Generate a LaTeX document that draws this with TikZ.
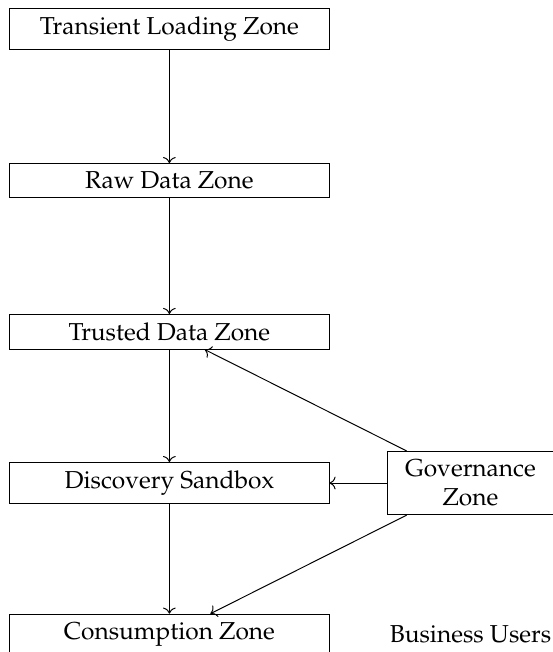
\documentclass[tikz,border=0pt]{standalone}
\usepackage[T1]{fontenc}
\usepackage{mathpazo}
\usepackage{tikz}
\usetikzlibrary{positioning,arrows.meta}

\begin{document}
\begin{tikzpicture}[every node/.style={font=\normalsize}]
  \tikzset{
    zone/.style={draw, minimum width=4.58cm, align=center},
    govzone/.style={draw, minimum width=2.37cm, align=center}
  }
  \useasboundingbox (0,0) rectangle (7.933,-9.354);

  % Main pipeline of zones
  \node[zone] (transient) at (2.43, -0.42) {Transient Loading Zone};
  \node[zone] (raw)       at (2.43, -2.59) {Raw Data Zone};
  \node[zone] (trusted)   at (2.43, -4.76) {Trusted Data Zone};
  \node[zone] (sandbox)   at (2.43, -6.93) {Discovery Sandbox};
  \node[zone] (consume)   at (2.43, -9.10) {Consumption Zone};

  % Governance on the side
  \node[govzone] (gov) at (6.75, -6.93) {Governance\\Zone};
  \node (users) at (6.75, -9.10) {Business Users};

  \draw[->] (transient) -- (raw);
  \draw[->] (raw) -- (trusted);
  \draw[->] (trusted) -- (sandbox);
  \draw[->] (sandbox) -- (consume);

  \draw[->] (gov) -- (trusted);
  \draw[->] (gov) -- (sandbox);
  \draw[->] (gov) -- (consume);
\end{tikzpicture}
\end{document}
